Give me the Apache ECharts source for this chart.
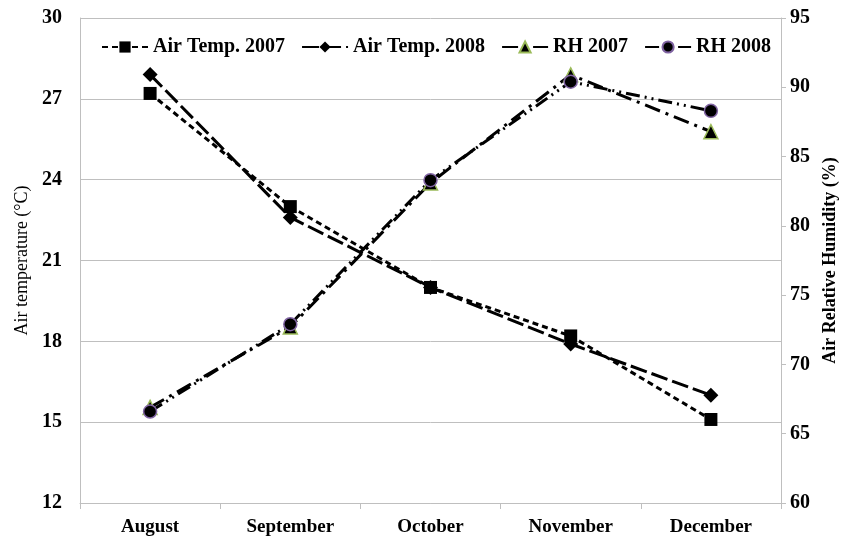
<!DOCTYPE html>
<html>
<head>
<meta charset="utf-8">
<script src="https://cdn.jsdelivr.net/npm/echarts@6/dist/echarts.min.js"></script>
<style>
  html, body { margin: 0; padding: 0; background: #fff; }
  #chart { width: 845px; height: 539px; }
</style>
</head>
<body>
<div id="chart"></div>
<script>
const months = ['August', 'September', 'October', 'November', 'December']
const airTemp2007 = [27.2, 23.0, 20.0, 18.2, 15.1]
const airTemp2008 = [27.9, 22.6, 20.0, 17.9, 16.0]
const rh2007 = [66.9, 72.7, 83.1, 90.9, 86.8]
const rh2008 = [66.6, 72.9, 83.3, 90.4, 88.3]

const FONT = '"Liberation Serif", "Times New Roman", serif'
const GRID_COLOR = '#bfbfbf'

const chart = echarts.init(document.getElementById('chart'))

const labelStyle = { color: '#000', fontFamily: FONT, fontWeight: 'bold', fontSize: 20 }

const option = {
  animation: false,
  grid: { left: 80, right: 64, top: 18, bottom: 36, outerBoundsMode: 'none' },
  legend: {
    top: 32,
    left: 96,
    itemWidth: 46,
    itemHeight: 14,
    itemGap: 16,
    textStyle: { color: '#000', fontFamily: FONT, fontWeight: 'bold', fontSize: 20 },
    data: ['Air Temp. 2007', 'Air Temp. 2008', 'RH 2007', 'RH 2008']
  },
  xAxis: {
    type: 'category',
    data: months,
    boundaryGap: true,
    axisLine: { lineStyle: { color: GRID_COLOR, width: 1 } },
    axisTick: { show: true, interval: 0, length: 6, lineStyle: { color: GRID_COLOR } },
    axisLabel: { ...labelStyle, fontSize: 19, margin: 15 }
  },
  yAxis: [
    {
      type: 'value',
      min: 12,
      max: 30,
      interval: 3,
      name: 'Air temperature (°C)',
      nameLocation: 'middle',
      nameGap: 49,
      nameTextStyle: { color: '#000', fontFamily: FONT, fontSize: 18 },
      axisLine: { show: true, lineStyle: { color: GRID_COLOR } },
      axisTick: { show: false },
      splitLine: { lineStyle: { color: GRID_COLOR, width: 1 } },
      axisLabel: { ...labelStyle, margin: 18 }
    },
    {
      type: 'value',
      min: 60,
      max: 95,
      interval: 5,
      name: 'Air Relative Humidity (%)',
      nameLocation: 'middle',
      nameGap: 40,
      nameTextStyle: { color: '#000', fontFamily: FONT, fontWeight: 'bold', fontSize: 18 },
      axisLine: { show: true, lineStyle: { color: GRID_COLOR } },
      axisTick: { show: true, length: 5, lineStyle: { color: GRID_COLOR } },
      splitLine: { show: false },
      axisLabel: { ...labelStyle, margin: 9 }
    }
  ],
  series: [
    {
      name: 'Air Temp. 2007',
      type: 'line',
      yAxisIndex: 0,
      data: airTemp2007,
      symbol: 'rect',
      symbolSize: 13,
      itemStyle: { color: '#000' },
      lineStyle: { color: '#000', width: 3, type: [6, 4] }
    },
    {
      name: 'Air Temp. 2008',
      type: 'line',
      yAxisIndex: 0,
      data: airTemp2008,
      symbol: 'diamond',
      symbolSize: 15,
      itemStyle: { color: '#000' },
      lineStyle: { color: '#000', width: 3, type: [17, 5] }
    },
    {
      name: 'RH 2007',
      type: 'line',
      yAxisIndex: 1,
      data: rh2007,
      symbol: 'triangle',
      symbolSize: 14,
      itemStyle: { color: '#000', borderColor: '#9bbb59', borderWidth: 1.5 },
      lineStyle: { color: '#000', width: 3, type: [16, 6, 3, 6] }
    },
    {
      name: 'RH 2008',
      type: 'line',
      yAxisIndex: 1,
      data: rh2008,
      symbol: 'circle',
      symbolSize: 13,
      itemStyle: { color: '#000', borderColor: '#8064a2', borderWidth: 1.5 },
      lineStyle: { color: '#000', width: 3, type: [14, 5, 2, 5, 2, 5] }
    }
  ]
}

chart.setOption(option)
</script>
</body>
</html>
